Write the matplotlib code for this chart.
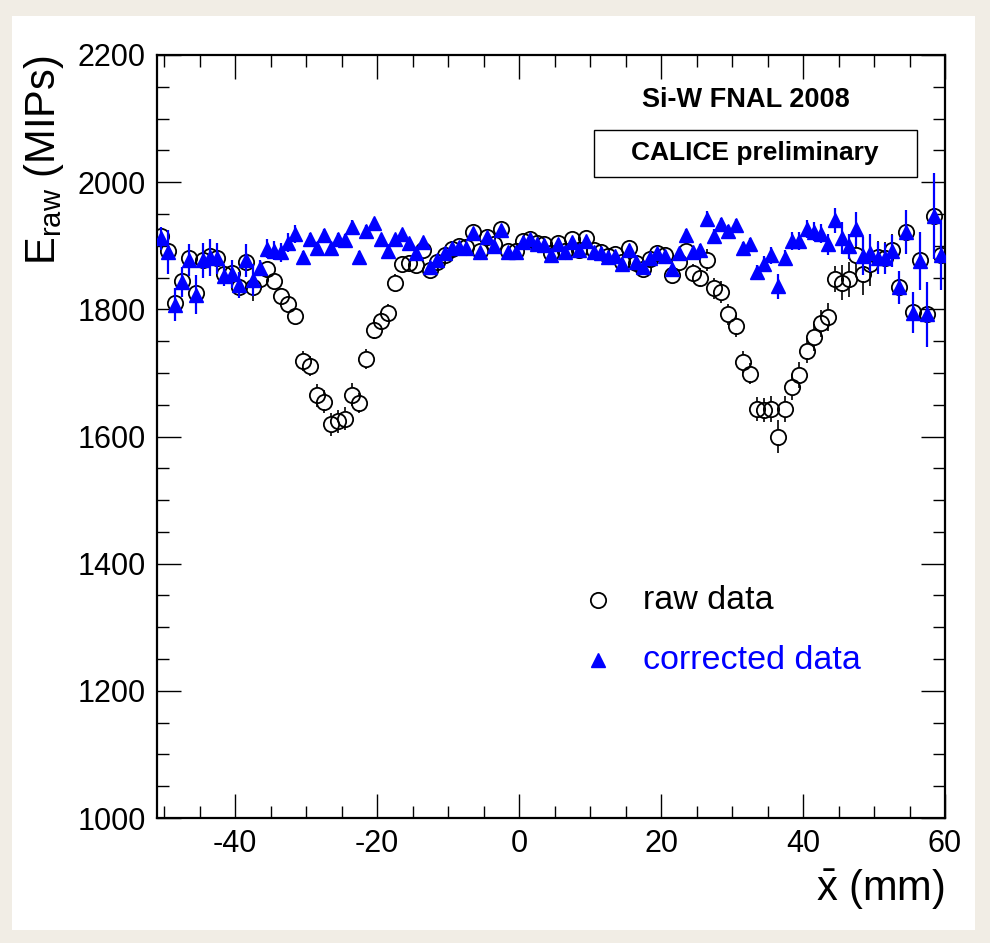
import numpy as np
import matplotlib
matplotlib.use("Agg")
import matplotlib.pyplot as plt
from matplotlib.patches import Rectangle
from matplotlib.ticker import MultipleLocator

plt.rcParams['font.family'] = ['Liberation Sans', 'DejaVu Sans']
plt.rcParams['mathtext.fontset'] = 'custom'
plt.rcParams['mathtext.rm'] = 'Liberation Sans'
plt.rcParams['mathtext.it'] = 'Liberation Sans:italic'
plt.rcParams['axes.unicode_minus'] = False

# bin centres (mm)
xbar = np.arange(-50.5, 60.0, 1.0)

# raw data (MIPs)
e_raw = [1915, 1892, 1810, 1845, 1881, 1825, 1878, 1884, 1881, 1856,
         1857, 1835, 1874, 1835, 1848, 1863, 1845, 1821, 1808, 1789,
         1719, 1711, 1665, 1655, 1619, 1624, 1628, 1666, 1653, 1722,
         1768, 1782, 1794, 1841, 1871, 1873, 1869, 1893, 1862, 1875,
         1886, 1895, 1899, 1898, 1921, 1892, 1914, 1902, 1926, 1891,
         1891, 1907, 1911, 1904, 1902, 1888, 1904, 1892, 1910, 1894,
         1912, 1893, 1890, 1884, 1887, 1874, 1897, 1873, 1864, 1879,
         1888, 1885, 1854, 1875, 1892, 1857, 1850, 1878, 1833, 1827,
         1792, 1774, 1717, 1699, 1643, 1642, 1643, 1600, 1643, 1678,
         1697, 1735, 1756, 1778, 1788, 1848, 1842, 1847, 1885, 1856,
         1871, 1883, 1881, 1893, 1835, 1922, 1796, 1877, 1792, 1947,
         1886]

# corrected data (MIPs)
e_corr = [1912, 1890, 1807, 1843, 1878, 1823, 1877, 1882, 1880, 1853,
          1855, 1838, 1877, 1846, 1865, 1895, 1892, 1890, 1905, 1919,
          1882, 1910, 1896, 1917, 1896, 1910, 1909, 1930, 1882, 1923,
          1935, 1910, 1892, 1910, 1919, 1905, 1888, 1906, 1866, 1878,
          1888, 1897, 1898, 1897, 1920, 1890, 1913, 1899, 1925, 1890,
          1890, 1906, 1910, 1903, 1901, 1885, 1903, 1890, 1906, 1893,
          1907, 1890, 1888, 1882, 1884, 1872, 1894, 1875, 1867, 1881,
          1888, 1884, 1863, 1889, 1917, 1890, 1894, 1942, 1916, 1934,
          1923, 1932, 1896, 1902, 1858, 1872, 1885, 1836, 1881, 1908,
          1908, 1926, 1922, 1919, 1902, 1940, 1912, 1899, 1926, 1884,
          1888, 1881, 1880, 1892, 1835, 1922, 1795, 1876, 1792, 1947,
          1885]

# errors
err_corr = [18, 35, 26, 24, 25, 31, 27, 29, 25, 16,
            22, 20, 26, 25, 12, 15, 15, 15, 15, 14,
            10, 10, 10, 10, 10, 10, 10, 10, 9, 9,
            9, 8, 8, 8, 7, 7, 7, 6, 6, 6,
            6, 5, 5, 5, 5, 5, 5, 5, 5, 5,
            5, 5, 5, 5, 5, 5, 5, 5, 5, 5,
            5, 5, 5, 5, 5, 5, 5, 5, 5, 5,
            6, 6, 6, 8, 10, 8, 9, 12, 10, 10,
            10, 10, 10, 10, 12, 12, 13, 20, 13, 14,
            14, 14, 15, 15, 16, 20, 25, 20, 27, 30,
            30, 25, 25, 25, 26, 35, 33, 46, 51, 68,
            55]
err_raw = [15, 30, 22, 20, 22, 27, 23, 25, 22, 14,
           19, 17, 22, 22, 11, 10, 10, 10, 10, 10,
           16, 16, 18, 18, 18, 18, 18, 18, 16, 16,
           15, 14, 14, 14, 13, 13, 12, 6, 6, 6,
           6, 5, 5, 5, 5, 5, 5, 5, 5, 5,
           5, 5, 5, 5, 5, 5, 5, 5, 5, 5,
           5, 5, 5, 5, 5, 5, 5, 5, 5, 5,
           6, 6, 6, 8, 10, 14, 15, 17, 17, 17,
           17, 17, 17, 17, 19, 19, 20, 26, 20, 20,
           20, 20, 21, 21, 22, 20, 28, 28, 27, 34,
           34, 25, 25, 25, 24, 33, 31, 44, 48, 64,
           52]

fig = plt.figure(figsize=(9.9, 9.43), dpi=100, facecolor='#f1ede5')
fig.patches.append(Rectangle((12/990, 1-930/943), 963/990, 914/943,
                             transform=fig.transFigure, facecolor='white',
                             edgecolor='none', zorder=-10))
ax = fig.add_axes([157/990, 1-818/943, 788/990, 763/943])
ax.set_zorder(1)

# raw: error bars stop at the marker edge, like ROOT does
e_raw_a = np.array(e_raw)
err_raw_a = np.array(err_raw)
gap = 12
show = err_raw_a > gap
ax.vlines(xbar[show], e_raw_a[show] + gap, e_raw_a[show] + err_raw_a[show],
          color='black', lw=1.2, zorder=2)
ax.vlines(xbar[show], e_raw_a[show] - err_raw_a[show], e_raw_a[show] - gap,
          color='black', lw=1.2, zorder=2)
ax.plot(xbar, e_raw, 'o', mfc='none', mec='black', ms=11, mew=1.3, zorder=2)

ax.errorbar(xbar, e_corr, yerr=err_corr, fmt='^', mfc='blue', mec='blue',
            ms=10, ecolor='blue', elinewidth=1.6, capsize=0, zorder=3)

ax.set_xlim(-51, 60)
ax.set_ylim(1000, 2200)
ax.xaxis.set_major_locator(MultipleLocator(20))
ax.xaxis.set_minor_locator(MultipleLocator(5))
ax.yaxis.set_major_locator(MultipleLocator(200))
ax.yaxis.set_minor_locator(MultipleLocator(50))
ax.tick_params(which='both', direction='in', top=True, right=True,
               labelsize=22, width=1.0, pad=8)
ax.tick_params(which='major', length=17)
ax.tick_params(which='minor', length=8.5)
for s in ax.spines.values():
    s.set_linewidth(1.6)

ax.set_ylabel(r'E$_{\rm raw}$ (MIPs)', fontsize=30, loc='top', labelpad=8)
ax.set_xlabel(r'$\bar{\rm x}$ (mm)', fontsize=30, loc='right', labelpad=6)

ax.text(0.7475, 0.941, 'Si-W FNAL 2008', transform=ax.transAxes,
        ha='center', va='center', fontsize=19.5, fontweight='bold')
ax.add_patch(Rectangle((0.5546, 0.840), 0.41, 0.0617, transform=ax.transAxes,
                       facecolor='white', edgecolor='black', lw=1.0))
ax.text(0.758, 0.871, 'CALICE preliminary', transform=ax.transAxes,
        ha='center', va='center', fontsize=19, fontweight='bold')

# legend
ax.plot([0.5596], [0.2857], 'o', mfc='none', mec='black', ms=11, mew=1.3,
        transform=ax.transAxes)
ax.text(0.617, 0.2857, 'raw data', transform=ax.transAxes, va='center',
        fontsize=24.5)
ax.plot([0.5596], [0.207], '^', color='blue', ms=10, transform=ax.transAxes)
ax.text(0.617, 0.207, 'corrected data', transform=ax.transAxes, va='center',
        fontsize=24.5, color='blue')

fig.savefig('out.png', dpi=100, facecolor=fig.get_facecolor())
